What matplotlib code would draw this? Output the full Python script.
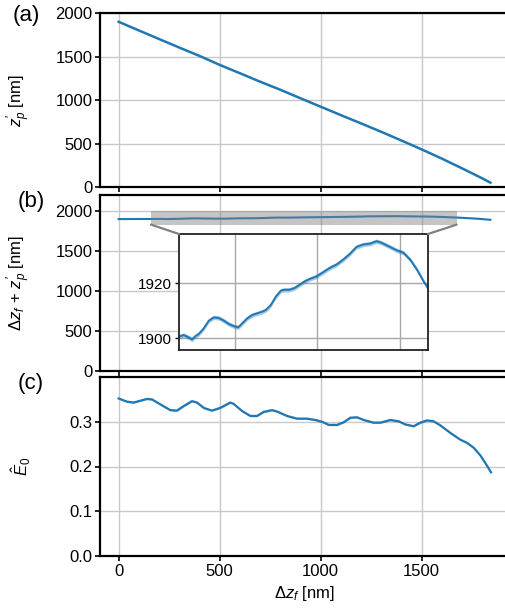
import numpy as np
import matplotlib
matplotlib.use("Agg")
import matplotlib.pyplot as plt
from matplotlib.patches import Rectangle, ConnectionPatch

plt.rcParams['font.family'] = ['Liberation Sans', 'DejaVu Sans']
plt.rcParams['mathtext.fontset'] = 'custom'
plt.rcParams['mathtext.rm'] = 'Liberation Sans'
plt.rcParams['mathtext.it'] = 'Liberation Sans:italic'
plt.rcParams['mathtext.bf'] = 'Liberation Sans:bold'
plt.rcParams['font.size'] = 12

# (a) z_p' vs focus shift
dz_a = [0, 100, 200, 300, 400, 500, 600, 700, 800, 900, 1000, 1100, 1200,
        1300, 1400, 1500, 1600, 1700, 1800, 1840]
zp = [1899, 1800, 1701, 1603, 1507, 1404, 1308, 1211, 1118, 1020, 923, 826,
      731, 634, 534, 432, 326, 214, 99, 50]

# (b) dz_f + z_p'
dz_b = [0, 50, 100, 130, 157, 188, 218, 239, 259, 280, 310, 341, 371, 402,
        433, 463, 494, 520, 545, 575, 606, 637, 667, 688, 718, 749, 779, 800,
        830, 861, 892, 922, 953, 994, 1034, 1075, 1116, 1157, 1198, 1238, 1279,
        1320, 1361, 1391, 1432, 1483, 1524, 1565, 1606, 1647, 1673, 1720, 1780,
        1840]
zsum = [1898.8, 1899.6, 1900.2, 1900.0, 1900.6, 1901.2, 1900.4, 1899.6,
        1900.8, 1901.6, 1903.6, 1906.4, 1907.6, 1907.4, 1906.4, 1905.2, 1904.4,
        1904.0, 1905.5, 1907.3, 1908.5, 1909.1, 1909.7, 1910.3, 1912.1, 1915.2,
        1917.3, 1917.6, 1917.6, 1918.2, 1919.4, 1920.6, 1921.5, 1922.4, 1923.9,
        1925.5, 1926.7, 1928.5, 1930.6, 1933.1, 1934.0, 1934.3, 1935.2, 1934.6,
        1933.4, 1931.9, 1931.0, 1928.5, 1924.9, 1920.6, 1918.2, 1912.0, 1903.0,
        1890.0]
zsum_err = 0.8

# (c) E0 hat
dz_c = [0, 41, 74, 91, 140, 165, 206, 256, 289, 322, 363, 388, 421, 462, 503,
        553, 569, 611, 652, 685, 718, 759, 784, 833, 883, 932, 974, 1007, 1040,
        1081, 1114, 1147, 1180, 1213, 1262, 1295, 1345, 1386, 1419, 1460, 1493,
        1526, 1559, 1592, 1642, 1691, 1724, 1757, 1790, 1820, 1843]
E0 = [0.352, 0.345, 0.343, 0.345, 0.351, 0.350, 0.339, 0.326, 0.325, 0.335,
      0.346, 0.343, 0.331, 0.325, 0.331, 0.343, 0.340, 0.324, 0.313, 0.313,
      0.322, 0.326, 0.323, 0.313, 0.307, 0.307, 0.304, 0.300, 0.293, 0.293,
      0.299, 0.309, 0.310, 0.304, 0.298, 0.298, 0.304, 0.301, 0.294, 0.290,
      0.298, 0.303, 0.301, 0.292, 0.275, 0.260, 0.253, 0.242, 0.225, 0.204,
      0.187]
E0_err = 0.002

xlim = (-92, 1932)
zoom_x = (160, 1673)
zoom_y = (1895.8, 1937.8)
rect_y = (1830, 2005)

W, H = 505, 608
fig = plt.figure(figsize=(W / 100, H / 100), dpi=100)


def frac(left, top, right, bottom):
    return [left / W, 1 - bottom / H, (right - left) / W, (bottom - top) / H]


ax1 = fig.add_axes(frac(100, 13, 509, 187))
ax2 = fig.add_axes(frac(100, 195, 509, 371))
ax3 = fig.add_axes(frac(100, 377, 509, 556))

c0 = '#1f77b4'
for ax in (ax1, ax2, ax3):
    ax.set_xlim(*xlim)
    ax.set_xticks([0, 500, 1000, 1500])
    ax.grid(True, color='#c8c8c8', lw=1.0)
    ax.set_axisbelow(True)
    for s in ax.spines.values():
        s.set_linewidth(1.6)
    ax.tick_params(direction='out', length=3.5, width=1.2, labelsize=12, pad=2)
    ax.yaxis.set_label_coords(-0.165, 0.5)

ax1.plot(dz_a, zp, color=c0, lw=1.8)
ax1.set_ylim(0, 2000)
ax1.set_yticks([0, 500, 1000, 1500, 2000])
ax1.set_ylabel(r"$z^{\prime}_{p}$ [nm]")
ax1.tick_params(labelbottom=False)

zs = np.array(zsum)
ax2.fill_between(dz_b, zs - zsum_err, zs + zsum_err, color=c0, alpha=0.4, lw=0)
ax2.plot(dz_b, zsum, color=c0, lw=1.5)
ax2.set_ylim(0, 2200)
ax2.set_yticks([0, 500, 1000, 1500, 2000])
ax2.set_ylabel(r"$\Delta z_f\,+\,z^{\prime}_{p}$ [nm]")
ax2.tick_params(labelbottom=False)

rect = Rectangle((zoom_x[0], rect_y[0]), zoom_x[1] - zoom_x[0],
                 rect_y[1] - rect_y[0], facecolor='0.5', alpha=0.45,
                 edgecolor='none', zorder=5)
ax2.add_patch(rect)

axin = fig.add_axes(frac(179, 234, 428, 350))
axin.fill_between(dz_b, zs - zsum_err, zs + zsum_err, color=c0, alpha=0.4, lw=0)
axin.plot(dz_b, zsum, color=c0, lw=1.4)
axin.set_xlim(*zoom_x)
axin.set_ylim(*zoom_y)
axin.set_xticks([500, 1000, 1500])
axin.set_yticks([1900, 1920])
axin.grid(True, color='#a8a8a8', lw=1.0)
axin.set_axisbelow(True)
axin.tick_params(labelbottom=False, bottom=False, direction='out', length=3,
                 width=1.0, labelsize=11, pad=2)
for s in axin.spines.values():
    s.set_linewidth(1.3)
    s.set_color('#222222')

for xa, xb in ((zoom_x[0], 0), (zoom_x[1], 1)):
    con = ConnectionPatch(xyA=(xa, rect_y[0]), coordsA=ax2.transData,
                          xyB=(xb, 1), coordsB=axin.transAxes,
                          color='#808080', lw=1.6, zorder=6)
    fig.add_artist(con)

e = np.array(E0)
ax3.fill_between(dz_c, e - E0_err, e + E0_err, color=c0, alpha=0.4, lw=0)
ax3.plot(dz_c, E0, color=c0, lw=1.6)
ax3.set_ylim(0, 0.4)
ax3.set_yticks([0.0, 0.1, 0.2, 0.3])
ax3.set_ylabel(r"$\hat{E}_0$")
ax3.set_xlabel(r"$\Delta z_f$ [nm]", labelpad=4)

fig.text(13 / W, 1 - 5 / H, "(a)", fontsize=16, va='top', ha='left')
fig.text(18 / W, 1 - 191 / H, "(b)", fontsize=16, va='top', ha='left')
fig.text(18 / W, 1 - 373 / H, "(c)", fontsize=16, va='top', ha='left')

fig.savefig("out.png", dpi=100)
